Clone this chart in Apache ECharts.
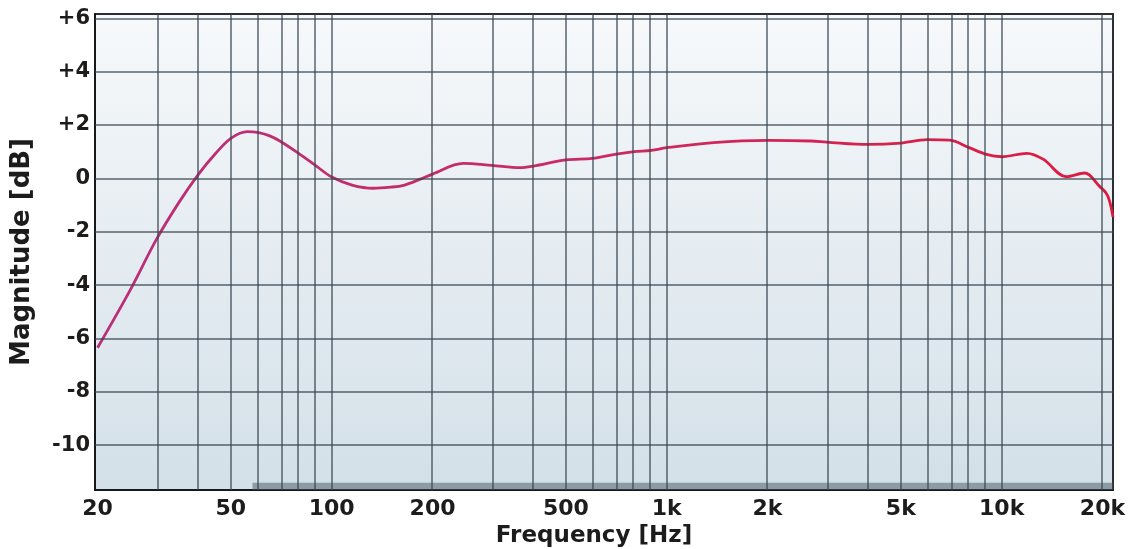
<!DOCTYPE html>
<html>
<head>
<meta charset="utf-8">
<script src="https://cdn.jsdelivr.net/npm/echarts@6/dist/echarts.min.js"></script>
<style>
  html, body { margin: 0; padding: 0; background: #ffffff; }
  #chart { width: 1135px; height: 549px; }
</style>
</head>
<body>
<div id="chart"></div>
<script>
// Frequency response, magnitude in dB against frequency in Hz (log scale)
const responseHz = [20, 25, 30, 35, 40, 45, 50, 56, 60, 65, 70, 80, 90, 100, 115, 133, 150, 164, 183, 200,
  247, 300, 365, 400, 500, 600, 700, 800, 900, 1000, 1380, 2000, 2700, 3000, 4000, 5000, 6000, 7000,
  8000, 9000, 10000, 11900, 13300, 15600, 17700, 19600, 20500, 21000, 21500];
const responseDb = [-6.35, -4.2, -2.28, -0.9, 0.15, 0.93, 1.5, 1.75, 1.72, 1.6, 1.4, 0.92, 0.46, 0.05, -0.25, -0.37, -0.33, -0.26, -0.04, 0.16,
  0.56, 0.49, 0.40, 0.46, 0.69, 0.75, 0.90, 1.0, 1.05, 1.15, 1.34, 1.42, 1.40, 1.36, 1.27, 1.32, 1.45, 1.43,
  1.15, 0.9, 0.81, 0.94, 0.72, 0.06, 0.2, -0.3, -0.55, -0.85, -1.45];

// Axis ticks
const freqGrid = [30, 40, 50, 60, 70, 80, 90, 100, 200, 300, 400, 500, 600, 700, 800, 900, 1000,
  2000, 3000, 4000, 5000, 6000, 7000, 8000, 9000, 10000, 20000];
const freqLabels = [20, 50, 100, 200, 500, 1000, 2000, 5000, 10000, 20000];
const dbTicks = [-10, -8, -6, -4, -2, 0, 2, 4, 6];

// Axis extents
const freqMin = 19.65, freqMax = 21500;
const dbMin = -11.68, dbMax = 6.16;
// Band marked along the bottom edge starts here
const coverageStartHz = 58;

const lg = Math.log10;
const fmtHz = v => {
  const f = Math.round(Math.pow(10, v));
  return f >= 1000 ? (f / 1000) + 'k' : String(f);
};
const fmtDb = v => {
  const d = Math.round(v);
  return d > 0 ? '+' + d : String(d);
};

const font = 'DejaVu Sans';
const textColor = '#1c1c1c';
const gridLineStyle = { color: 'rgba(55,70,80,0.62)', width: 2, type: 'solid' };

const chart = echarts.init(document.getElementById('chart'), null, { renderer: 'canvas' });
chart.setOption({
  animation: false,
  backgroundColor: '#ffffff',
  textStyle: { fontFamily: font },
  grid: {
    left: 95, right: 22, top: 14, bottom: 59,
    outerBoundsMode: 'none',
    containLabel: false,
    show: true,
    backgroundColor: new echarts.graphic.LinearGradient(0, 0, 0, 1, [
      { offset: 0, color: '#f7f9fb' },
      { offset: 1, color: '#d3e0e8' }
    ]),
    borderColor: '#2b2f33',
    borderWidth: 2
  },
  xAxis: {
    type: 'value',
    min: lg(freqMin), max: lg(freqMax),
    name: 'Frequency [Hz]',
    nameLocation: 'middle',
    nameGap: 31,
    nameTextStyle: {
      fontFamily: font, fontWeight: 'bold', fontSize: 23, color: textColor,
      padding: [0, 20, 0, 0]
    },
    axisLine: { show: true, onZero: false, lineStyle: { color: '#15191c', width: 2 } },
    axisTick: { show: false },
    splitLine: { show: false },
    axisLabel: {
      customValues: freqLabels.map(lg),
      formatter: fmtHz,
      margin: 8,
      fontFamily: font, fontWeight: 'bold', fontSize: 22, color: textColor
    }
  },
  yAxis: {
    type: 'value',
    min: dbMin, max: dbMax,
    name: 'Magnitude [dB]',
    nameLocation: 'middle',
    nameGap: 60,
    nameTextStyle: { fontFamily: font, fontWeight: 'bold', fontSize: 26, color: textColor },
    axisLine: { show: true, onZero: false, lineStyle: { color: '#15191c', width: 2 } },
    axisTick: { show: false },
    splitLine: { show: false },
    axisLabel: {
      customValues: dbTicks,
      formatter: fmtDb,
      margin: 5,
      fontFamily: font, fontWeight: 'bold', fontSize: 21, color: textColor
    }
  },
  series: [
    {
      // grid lines and the bottom band
      type: 'line',
      data: [],
      silent: true,
      z: 1,
      markLine: {
        silent: true,
        symbol: 'none',
        label: { show: false },
        lineStyle: gridLineStyle,
        animation: false,
        data: freqGrid.map(f => ({ xAxis: lg(f) }))
          .concat(dbTicks.map(d => ({ yAxis: d })))
      },
      markArea: {
        silent: true,
        itemStyle: { color: 'rgba(70,85,95,0.5)' },
        data: [[
          { xAxis: lg(coverageStartHz), yAxis: dbMin },
          { xAxis: lg(freqMax), yAxis: dbMin + 0.27 }
        ]]
      }
    },
    {
      type: 'line',
      z: 3,
      smooth: 0.35,
      showSymbol: false,
      clip: true,
      data: responseHz.map((f, i) => [lg(f), responseDb[i]]),
      lineStyle: {
        width: 2.8,
        color: new echarts.graphic.LinearGradient(0, 0, 1, 0, [
          { offset: 0, color: '#b8307a' },
          { offset: 0.5, color: '#cb2a62' },
          { offset: 1, color: '#de1a3e' }
        ])
      }
    }
  ]
});
</script>
</body>
</html>
